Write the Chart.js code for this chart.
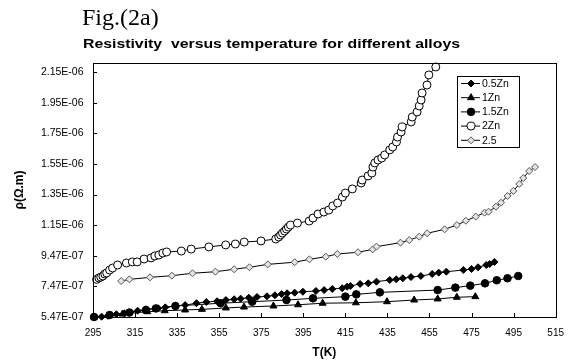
<!DOCTYPE html>
<html>
<head>
<meta charset="utf-8">
<script src="https://cdn.jsdelivr.net/npm/chart.js@4/dist/chart.umd.min.js"></script>
<style>
  html, body { margin: 0; padding: 0; background: #fff; }
  #wrap { position: relative; width: 574px; height: 362px; }
  canvas { display: block; }
</style>
</head>
<body>
<div id="wrap"><canvas id="c" width="574" height="362"></canvas></div>
<script>
// ---- data (T in K, resistivity in ohm.m) ----
const figLabel = "Fig.(2a)";
const chartTitle = "Resistivity  versus temperature for different alloys";
const xTitle = "T(K)";
const yTitle = "\u03c1(\u03a9.m)";
const seriesNames = ["0.5Zn", "1Zn", "1.5Zn", "2Zn", "2.5"];

const xTickValues = [295, 315, 335, 355, 375, 395, 415, 435, 455, 475, 495, 515];
const yTickValues = [5.47e-7, 7.47e-7, 9.47e-7, 1.147e-6, 1.347e-6, 1.547e-6, 1.747e-6, 1.947e-6, 2.147e-6];
const yTickLabels = ["5.47E-07", "7.47E-07", "9.47E-07", "1.15E-06", "1.35E-06", "1.55E-06", "1.75E-06", "1.95E-06", "2.15E-06"];

const T_05Zn = [295.9, 299.1, 302.1, 306.1, 309.9, 312.3, 316.2, 320.1, 326.0, 329.4, 334.1, 338.8, 344.2, 348.9, 354.0, 358.2, 362.1, 365.2, 369.1, 373.0, 377.7, 381.5, 384.7, 387.3, 390.9, 394.8, 401.0, 404.9, 408.8, 413.5, 415.8, 417.4, 422.0, 425.9, 429.8, 436.1, 439.2, 442.3, 446.2, 450.9, 456.3, 459.4, 463.0, 471.1, 475.0, 478.1, 482.0, 483.6, 485.9];
const R_05Zn = [5.47, 5.49, 5.55, 5.65, 5.71, 5.78, 5.88, 5.97, 6.04, 6.10, 6.19, 6.25, 6.37, 6.45, 6.50, 6.58, 6.63, 6.67, 6.73, 6.78, 6.82, 6.89, 6.97, 7.02, 7.06, 7.12, 7.17, 7.23, 7.30, 7.35, 7.45, 7.50, 7.63, 7.67, 7.78, 7.89, 7.93, 8.00, 8.08, 8.15, 8.28, 8.37, 8.43, 8.54, 8.61, 8.72, 8.87, 8.93, 9.07];

const T_1Zn = [295.5, 302.9, 309.0, 320.8, 329.1, 338.8, 346.8, 358.2, 366.8, 380.8, 392.5, 404.2, 420.0, 434.8, 447.7, 458.9, 468.0, 476.8];
const R_1Zn = [5.47, 5.56, 5.66, 5.82, 5.88, 5.93, 5.97, 6.06, 6.12, 6.19, 6.27, 6.37, 6.40, 6.47, 6.58, 6.65, 6.76, 6.80];

const T_15Zn = [295.5, 302.9, 312.3, 320.2, 324.9, 334.2, 355.7, 370.7, 387.0, 399.6, 415.0, 420.2, 431.4, 458.9, 467.3, 474.4, 481.4, 487.0, 492.1, 497.2];
const R_15Zn = [5.47, 5.60, 5.76, 5.93, 6.03, 6.19, 6.37, 6.47, 6.58, 6.69, 6.80, 6.95, 7.08, 7.23, 7.39, 7.52, 7.67, 7.87, 8.00, 8.15];

const T_2Zn = [296.7, 297.8, 298.7, 299.7, 300.6, 301.5, 302.9, 304.3, 306.7, 310.9, 313.7, 316.0, 319.3, 322.6, 324.4, 326.3, 328.2, 330.0, 337.0, 341.7, 350.1, 358.1, 362.7, 366.9, 374.9, 381.9, 383.3, 384.2, 385.1, 386.1, 387.0, 387.9, 388.9, 392.2, 397.8, 399.6, 402.0, 404.8, 407.1, 409.0, 411.3, 413.6, 415.0, 418.3, 422.5, 423.0, 425.8, 427.6, 428.1, 429.0, 430.5, 432.3, 433.7, 436.1, 437.5, 439.3, 439.8, 441.5, 442.0, 446.3, 446.8, 449.1, 450.1, 451.0, 451.5, 453.8, 454.7, 458.0];
const R_2Zn = [7.93, 8.02, 8.08, 8.15, 8.28, 8.35, 8.54, 8.67, 8.87, 9.00, 9.07, 9.07, 9.26, 9.33, 9.46, 9.52, 9.65, 9.72, 9.78, 9.91, 10.05, 10.18, 10.24, 10.37, 10.44, 10.57, 10.70, 10.83, 10.96, 11.09, 11.22, 11.35, 11.48, 11.61, 11.74, 11.94, 12.20, 12.33, 12.46, 12.73, 12.92, 13.31, 13.57, 13.84, 14.23, 14.42, 14.69, 14.88, 15.27, 15.54, 15.73, 15.86, 16.06, 16.39, 16.58, 16.91, 17.23, 17.56, 17.89, 18.22, 18.54, 18.87, 19.26, 19.65, 20.11, 20.63, 21.29, 21.81];

const T_25 = [308.4, 312.3, 322.1, 332.5, 342.3, 353.2, 362.1, 369.4, 378.1, 390.9, 397.9, 405.7, 411.2, 421.0, 428.0, 429.8, 441.2, 445.4, 450.1, 453.9, 462.2, 468.0, 472.3, 477.0, 481.2, 483.1, 486.6, 489.0, 492.1, 494.9, 497.7, 499.6, 502.4, 505.2];
const R_25 = [7.82, 7.93, 8.06, 8.17, 8.33, 8.43, 8.59, 8.72, 8.91, 9.05, 9.24, 9.41, 9.59, 9.70, 9.89, 10.07, 10.33, 10.50, 10.72, 10.94, 11.20, 11.48, 11.76, 12.03, 12.29, 12.35, 12.68, 12.94, 13.38, 13.71, 14.16, 14.55, 15.01, 15.27];

const RHO_UNIT = 1e-7; // R_* arrays are in units of 1e-7 ohm.m

function pts(T, R) { return T.map((t, i) => ({ x: t, y: R[i] * RHO_UNIT })); }

const styles = [
  { pointStyle: 'rectRot', pointRadius: 3.5, pointBackgroundColor: '#000', pointBorderColor: '#000' },
  { pointStyle: 'triangle', pointRadius: 4, pointBackgroundColor: '#000', pointBorderColor: '#000' },
  { pointStyle: 'circle', pointRadius: 3.8, pointBackgroundColor: '#000', pointBorderColor: '#000' },
  { pointStyle: 'circle', pointRadius: 4, pointBackgroundColor: '#fff', pointBorderColor: '#000' },
  { pointStyle: 'rectRot', pointRadius: 3.5, pointBackgroundColor: '#e4e4e4', pointBorderColor: '#555' }
];
const seriesData = [pts(T_05Zn, R_05Zn), pts(T_1Zn, R_1Zn), pts(T_15Zn, R_15Zn), pts(T_2Zn, R_2Zn), pts(T_25, R_25)];

const datasets = seriesNames.map((name, i) => Object.assign({
  label: name,
  data: seriesData[i],
  showLine: true,
  borderColor: '#000',
  borderWidth: 1,
  pointBorderWidth: 1,
  pointHoverRadius: 4,
  clip: false,
  order: 4 - i
}, styles[i]));

const frameAndTicks = {
  id: 'frameAndTicks',
  afterDraw(chart) {
    const { ctx, chartArea: a, scales } = chart;
    ctx.save();
    ctx.strokeStyle = '#000';
    ctx.lineWidth = 1;
    ctx.strokeRect(Math.round(a.left) + 0.5, Math.round(a.top) + 0.5, Math.round(a.right - a.left), Math.round(a.bottom - a.top));
    ctx.beginPath();
    scales.x.ticks.forEach(t => {
      const px = Math.round(scales.x.getPixelForValue(t.value)) + 0.5;
      ctx.moveTo(px, a.bottom);
      ctx.lineTo(px, a.bottom - 4);
    });
    scales.y.ticks.forEach(t => {
      const py = Math.round(scales.y.getPixelForValue(t.value)) + 0.5;
      ctx.moveTo(a.left, py);
      ctx.lineTo(a.left + 4, py);
    });
    ctx.stroke();
    ctx.restore();
  }
};

const texts = {
  id: 'texts',
  afterDraw(chart) {
    const ctx = chart.ctx;
    ctx.save();
    ctx.fillStyle = '#000';
    ctx.textBaseline = 'alphabetic';
    ctx.textAlign = 'left';
    ctx.font = '24px "Liberation Serif", "Times New Roman", serif';
    ctx.fillText(figLabel, 82, 25);
    ctx.font = 'bold 13px "Liberation Sans", Arial, sans-serif';
    ctx.textAlign = 'left';
    ctx.textBaseline = 'middle';
    const w = ctx.measureText(chartTitle).width;
    const target = 377;
    ctx.translate(83, 44);
    ctx.scale(target / w, 1);
    ctx.fillText(chartTitle, 0, 0);
    ctx.restore();
  }
};

const boxLegend = {
  id: 'boxLegend',
  afterDraw(chart) {
    const ctx = chart.ctx;
    const x0 = 457, y0 = 76, w = 62, h = 71;
    ctx.save();
    ctx.fillStyle = '#fff';
    ctx.fillRect(x0, y0, w, h);
    ctx.strokeStyle = '#000';
    ctx.lineWidth = 1;
    ctx.strokeRect(x0 + 0.5, y0 + 0.5, w, h);
    ctx.font = '10.5px "Liberation Sans", Arial, sans-serif';
    ctx.textBaseline = 'middle';
    ctx.textAlign = 'left';
    chart.data.datasets.forEach((ds, i) => {
      const y = y0 + 7.5 + i * 14.2;
      ctx.strokeStyle = '#000';
      ctx.lineWidth = 1;
      ctx.beginPath();
      ctx.moveTo(461, y);
      ctx.lineTo(480, y);
      ctx.stroke();
      ctx.fillStyle = ds.pointBackgroundColor;
      ctx.strokeStyle = ds.pointBorderColor;
      Chart.helpers.drawPoint(ctx, { pointStyle: ds.pointStyle, radius: ds.pointRadius, rotation: 0, borderWidth: 1 }, 471, y);
      ctx.fillStyle = '#000';
      ctx.fillText(ds.label, 482, y + 0.5);
    });
    ctx.restore();
  }
};

new Chart(document.getElementById('c'), {
  type: 'scatter',
  data: { datasets },
  options: {
    responsive: false,
    animation: false,
    devicePixelRatio: 1,
    layout: { padding: { top: 63, right: 10, left: 0, bottom: 0 } },
    plugins: { legend: { display: false }, title: { display: false }, tooltip: { enabled: false } },
    scales: {
      x: {
        type: 'linear',
        min: 295, max: 515,
        afterBuildTicks: s => { s.ticks = xTickValues.map(v => ({ value: v })); },
        afterFit: s => { s.height = 45; },
        grid: { display: false, drawTicks: false, tickLength: 0 },
        border: { display: false },
        ticks: { color: '#000', font: { family: '"Liberation Sans", Arial, sans-serif', size: 10 }, padding: 10, maxRotation: 0, autoSkip: false },
        title: { display: true, text: xTitle, color: '#000', font: { family: '"Liberation Sans", Arial, sans-serif', size: 12, weight: 'bold' }, padding: { top: 0, bottom: 2 } }
      },
      y: {
        type: 'linear',
        min: 5.47e-7, max: 2.207e-6,
        afterBuildTicks: s => { s.ticks = yTickValues.map(v => ({ value: v })); },
        afterFit: s => { s.width = 93; },
        grid: { display: false, drawTicks: false, tickLength: 0 },
        border: { display: false },
        ticks: { color: '#000', font: { family: '"Liberation Sans", Arial, sans-serif', size: 10.5 }, padding: 9.5, autoSkip: false,
          callback: (v, i) => yTickLabels[i] },
        title: { display: true, text: yTitle, color: '#000', font: { family: '"Liberation Sans", Arial, sans-serif', size: 12, weight: 'bold' }, padding: { top: 12, bottom: 0 } }
      }
    }
  },
  plugins: [frameAndTicks, texts, boxLegend]
});
</script>
</body>
</html>
